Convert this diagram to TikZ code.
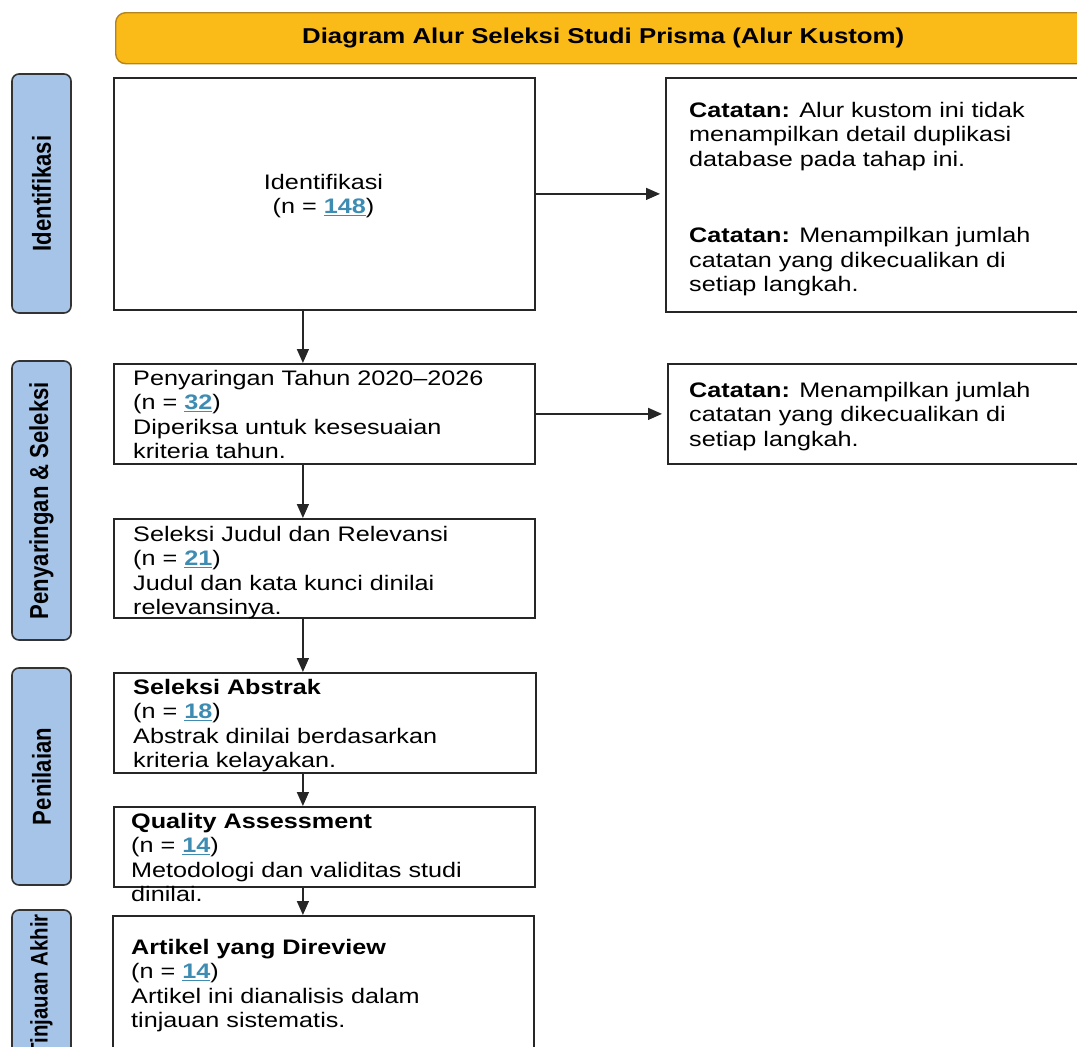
\documentclass[tikz,border=0pt]{standalone}
\usepackage{fontspec}
\setmainfont{Liberation Sans}[FakeStretch=1.2]
\newfontfamily\pillfont{Liberation Sans}[FakeStretch=0.85]
\usepackage{tikz}
\usetikzlibrary{arrows.meta}

\definecolor{titlegold}{RGB}{250,186,24}
\definecolor{titleedge}{RGB}{180,132,30}
\definecolor{pillblue}{RGB}{166,196,232}
\definecolor{nblue}{RGB}{62,140,178}
\newcommand{\nval}[1]{\textcolor{nblue}{\underline{\textbf{#1}}}}

\begin{document}
\begin{tikzpicture}[x=1pt, y=-1pt,
            box/.style={draw=black!85, line width=1.8pt, anchor=north west, inner sep=0pt},
            txt/.style={anchor=north west, inner sep=0pt, align=left, font=\fontsize{21}{24.5}\selectfont},
            pill/.style={draw=black!80, line width=1.6pt, fill=pillblue, rounded corners=7pt, rotate=90, minimum height=59pt, inner sep=0pt, font=\pillfont\bfseries\fontsize{26}{28}\selectfont},
            arr/.style={draw=black!85, line width=1.4pt, -{Triangle[length=14pt, width=12pt]}}]
            \useasboundingbox (0,0) rectangle (1077,1047);
            \clip (0,0) rectangle (1077,1047);

            \node[draw=titleedge, line width=1.4pt, fill=titlegold, rounded corners=10pt, anchor=north west, minimum width=975pt, minimum height=51pt, font=\bfseries\fontsize{21.5}{24}\selectfont] (title) at (115,12) {Diagram Alur Seleksi Studi Prisma (Alur Kustom)};

            \node[pill, minimum width=239pt] (p1) at (41.5,193.5) {Identifikasi};
            \node[pill, minimum width=279pt] (p2) at (41.5,500.5) {Penyaringan \& Seleksi};
            \node[pill, minimum width=217pt] (p3) at (41.5,776.5) {Penilaian};
            \node[pill, minimum width=150pt, font=\pillfont\bfseries\fontsize{24}{26}\selectfont] (p4) at (41.5,985) {Tinjauan Akhir};

            \node[box, minimum width=421pt, minimum height=232pt] (idbox) at (113,77) {};
            \node[box, minimum width=430pt, minimum height=234pt] (note1) at (665,77) {};
            \node[box, minimum width=421pt, minimum height=100pt] (penbox) at (113,363) {};
            \node[box, minimum width=428pt, minimum height=100pt] (note2) at (667,363) {};
            \node[box, minimum width=421pt, minimum height=99pt] (judbox) at (113,518) {};
            \node[box, minimum width=422pt, minimum height=100pt] (absbox) at (113,672) {};
            \node[box, minimum width=421pt, minimum height=80pt] (qabox) at (113,806) {};
            \node[box, minimum width=421pt, minimum height=170pt] (artbox) at (112,915) {};

            \node[txt, anchor=center, align=center] (idtxt) at (323.5,196) {Identifikasi\\(n = \nval{148})};
            \node[txt] (note1txt) at (689,102) {\textbf{Catatan:} Alur kustom ini tidak\\menampilkan detail duplikasi\\database pada tahap ini.\\[52pt]\textbf{Catatan:} Menampilkan jumlah\\catatan yang dikecualikan di\\setiap langkah.};
            \node[txt] (note2txt) at (689,382) {\textbf{Catatan:} Menampilkan jumlah\\catatan yang dikecualikan di\\setiap langkah.};
            \node[txt] (pentxt) at (133,370) {Penyaringan Tahun 2020--2026\\(n = \nval{32})\\Diperiksa untuk kesesuaian\\kriteria tahun.};
            \node[txt] (judtxt) at (133,526) {Seleksi Judul dan Relevansi\\(n = \nval{21})\\Judul dan kata kunci dinilai\\relevansinya.};
            \node[txt] (abstxt) at (133,679) {\textbf{Seleksi Abstrak}\\(n = \nval{18})\\Abstrak dinilai berdasarkan\\kriteria kelayakan.};
            \node[txt] (qatxt) at (131,813) {\textbf{Quality Assessment}\\(n = \nval{14})\\Metodologi dan validitas studi\\dinilai.};
            \node[txt] (arttxt) at (131,939) {\textbf{Artikel yang Direview}\\(n = \nval{14})\\Artikel ini dianalisis dalam\\tinjauan sistematis.};

            \draw[arr, shorten >=5pt] (idbox.east) -- (idbox.east -| note1.west);
            \draw[arr, shorten >=5pt] (penbox.east) -- (penbox.east -| note2.west);
            \draw[arr] ([xshift=-21.5pt]idbox.south) -- ([xshift=-21.5pt]penbox.north);
            \draw[arr] ([xshift=-21.5pt]penbox.south) -- ([xshift=-21.5pt]judbox.north);
            \draw[arr] ([xshift=-21.5pt]judbox.south) -- ([xshift=-22pt]absbox.north);
            \draw[arr] ([xshift=-22pt]absbox.south) -- ([xshift=-21.5pt]qabox.north);
            \draw[arr] ([xshift=-21.5pt]qabox.south) -- ([xshift=-20.5pt]artbox.north);
        \end{tikzpicture}
\end{document}
